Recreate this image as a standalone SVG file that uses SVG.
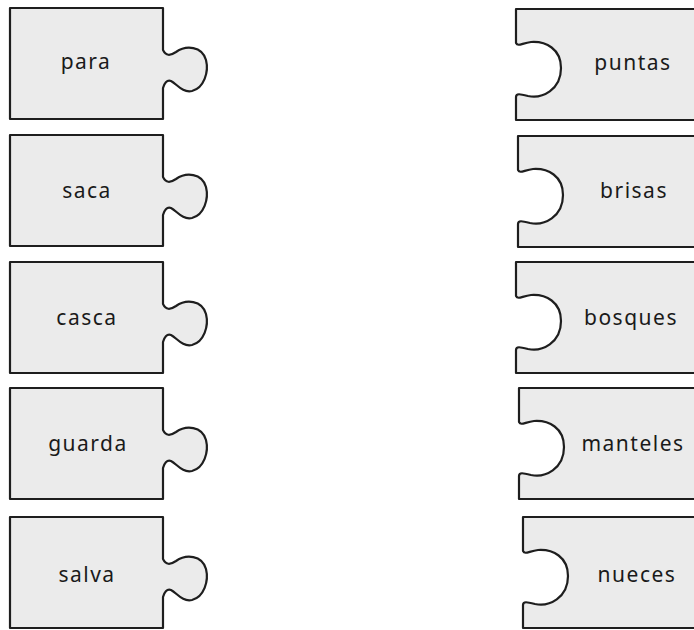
<svg xmlns="http://www.w3.org/2000/svg" xmlns:xlink="http://www.w3.org/1999/xlink" width="694" height="630" viewBox="0 0 694 630">
<style>
.pc{fill:#ebebeb;stroke:#1e1e1e;stroke-width:2.2;stroke-linejoin:round}
.lb{font-family:"Noto Sans","DejaVu Sans",sans-serif;font-size:21px;fill:#1a1a1a;text-anchor:middle;letter-spacing:1.5px}
</style>
<defs>
<path id="L" d="M0,0 H153 V42 C156,48 160,48 166,44 C176,37 192,38 196,52 C199,64 194,80 182,83 C172,85 167,76 161,73 C157,71 154,76 153,80 V111 H0 Z"/>
<path id="R" d="M0,0 H200 V111 H0 V88 C0,84 4,85 12,87 C26,90 45,81 45,59 C45,40 30,32 15,33 C6,34 2,38 0,34 Z"/>
</defs>
<rect width="694" height="630" fill="#ffffff"/>
<g id="left-para"><use xlink:href="#L" class="pc" transform="translate(10,8)"/><text class="lb" x="86" y="69">para</text></g>
<g id="left-saca"><use xlink:href="#L" class="pc" transform="translate(10,135)"/><text class="lb" x="87" y="198">saca</text></g>
<g id="left-casca"><use xlink:href="#L" class="pc" transform="translate(10,262)"/><text class="lb" x="87" y="325">casca</text></g>
<g id="left-guarda"><use xlink:href="#L" class="pc" transform="translate(10,388)"/><text class="lb" x="88" y="451">guarda</text></g>
<g id="left-salva"><use xlink:href="#L" class="pc" transform="translate(10,517)"/><text class="lb" x="87" y="582">salva</text></g>
<g id="right-puntas"><use xlink:href="#R" class="pc" transform="translate(516,9)"/><text class="lb" x="633" y="70">puntas</text></g>
<g id="right-brisas"><use xlink:href="#R" class="pc" transform="translate(518,136)"/><text class="lb" x="634" y="198">brisas</text></g>
<g id="right-bosques"><use xlink:href="#R" class="pc" transform="translate(516,262)"/><text class="lb" x="631" y="325">bosques</text></g>
<g id="right-manteles"><use xlink:href="#R" class="pc" transform="translate(519,388)"/><text class="lb" x="633" y="451">manteles</text></g>
<g id="right-nueces"><use xlink:href="#R" class="pc" transform="translate(523,517)"/><text class="lb" x="637" y="582">nueces</text></g>
<g id="connectors"></g>
</svg>
